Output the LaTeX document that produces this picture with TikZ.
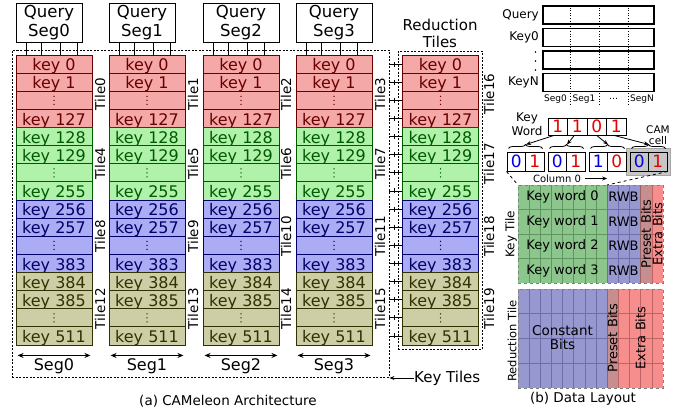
\documentclass[tikz,border=0pt]{standalone}
\usepackage{fontspec}
\setmainfont{DejaVu Sans}
\usetikzlibrary{arrows.meta,decorations.pathreplacing}
\definecolor{rf}{RGB}{245,168,168}
\definecolor{rd}{RGB}{105,0,0}
\definecolor{gf}{RGB}{176,242,170}
\definecolor{gd}{RGB}{0,90,0}
\definecolor{bf}{RGB}{172,172,244}
\definecolor{bd}{RGB}{0,0,105}
\definecolor{of}{RGB}{206,206,166}
\definecolor{od}{RGB}{50,50,0}
\definecolor{kgf}{RGB}{140,198,140}
\definecolor{kgd}{RGB}{95,150,95}
\definecolor{kpf}{RGB}{152,152,208}
\definecolor{kpd}{RGB}{110,110,170}
\definecolor{krf}{RGB}{198,142,142}
\definecolor{krd}{RGB}{150,100,100}
\definecolor{kef}{RGB}{246,142,142}
\definecolor{ked}{RGB}{190,100,100}
\definecolor{bitred}{RGB}{230,0,0}
\definecolor{bitblue}{RGB}{0,0,230}
\tikzset{
  keyrow/.style={draw, line width=0.9pt, minimum width=76pt, minimum height=18.125pt,
    inner sep=0pt, text height=13.5pt, text depth=0pt, font=\fontsize{16}{18}\selectfont},
  qbox/.style={draw, line width=1pt, minimum height=39pt, inner sep=0pt, align=center,
    font=\fontsize{16.5}{18.2}\selectfont, fill=white},
  tilelab/.style={rotate=90, inner sep=0pt, font=\fontsize{13.5}{15}\selectfont},
  tiledash/.style={draw, line width=0.9pt, dash pattern=on 2pt off 1.5pt, inner sep=0pt},
  wire/.style={line width=0.8pt},
  rowbox/.style={draw, line width=1.1pt, minimum width=111pt, minimum height=18pt, inner sep=0pt},
  bitcell/.style={draw, line width=1pt, minimum width=18.5pt, minimum height=19pt, inner sep=0pt,
    font=\fontsize{17}{19}\selectfont},
  kwcell/.style={draw, line width=1pt, minimum width=19.5pt, minimum height=17pt, inner sep=0pt,
    font=\fontsize{17}{19}\selectfont, text=bitred},
  smalllab/.style={inner sep=0pt, font=\fontsize{12}{14}\selectfont},
  arr/.style={-{Stealth[length=5pt,width=4pt]}, line width=0.8pt},
}
\begin{document}
\begin{tikzpicture}[x=1pt,y=-1pt]
\useasboundingbox (0,0) rectangle (679,410);

% ---------- Key tiles border ----------
\node[tiledash, minimum width=377pt, minimum height=327pt] (keytiles) at (200.5,213.5) {};
\node[tiledash, minimum width=84pt, minimum height=298pt] (redtiles) at (440,200) {};

% ---------- Query boxes ----------
\node[qbox, minimum width=66pt] (q0) at (49,22.5) {Query\\Seg0};
\node[qbox, minimum width=66pt] (q1) at (142,22.5) {Query\\Seg1};
\node[qbox, minimum width=76pt] (q2) at (241,22.5) {Query\\Seg2};
\node[qbox, minimum width=76pt] (q3) at (334,22.5) {Query\\Seg3};

% ---------- Key columns ----------
\foreach \c/\xl in {0/16,1/109,2/203,3/296,4/402.5} {
  \foreach \g/\fc/\dc in {0/rf/rd,1/gf/gd,2/bf/bd,3/of/od} {
    \foreach \i/\off in {0/0,1/1,2/-1,3/127} {
      \pgfmathtruncatemacro\r{4*\g+\i}
      \pgfmathtruncatemacro\kn{128*\g+\off}
      \pgfmathsetmacro\yc{55+(\r+0.5)*18.125}
      \ifnum\i=2
        \node[keyrow, fill=\fc, draw=\dc] (k\c-\r) at (\xl+38,\yc) {};
        \foreach \d in {-4,0,4} \fill[\dc] (k\c-\r.center) ++(0,\d) circle (0.75);
      \else
        \node[keyrow, fill=\fc, draw=\dc, text=\dc] (k\c-\r) at (\xl+38,\yc) {key \kn};
      \fi
    }
  }
}

% ---------- Query wires ----------
\foreach \c in {0,1,2,3} {
  \foreach \o in {11,26,45,62} {
    \draw[wire] ([xshift=\o pt]q\c.south west) -- ([xshift=\o pt]q\c.south west |- k\c-0.north);
  }
}

% ---------- Wires to reduction tiles ----------
\foreach \r in {0,...,15} {
  \draw[wire] (keytiles.east |- k4-\r.west) -- (k4-\r.west);
  \draw[wire] ([xshift=5pt,yshift=2.5pt]keytiles.east |- k4-\r.west) -- ([xshift=5pt,yshift=-2.5pt]keytiles.east |- k4-\r.west);
}

% ---------- Tile labels ----------
\foreach \c/\tx in {0/100,1/193,2/286,3/380} {
  \foreach \g/\ty in {0/94,1/163.75,2/236.25,3/308.75} {
    \pgfmathtruncatemacro\tn{4*\g+\c}
    \node[tilelab] (t\tn) at (\tx,\ty) {Tile\tn};
  }
}
\foreach \g/\ty in {0/94,1/163.75,2/236.25,3/308.75} {
  \pgfmathtruncatemacro\tn{16+\g}
  \node[tilelab] (t\tn) at (489,\ty) {Tile\tn};
}

% ---------- Seg arrows ----------
\foreach \c in {0,1,2,3} {
  \draw[{Stealth[length=6pt,width=5pt]}-{Stealth[length=6pt,width=5pt]}, line width=1pt]
    ([shift={(2,10)}]k\c-15.south west) -- ([shift={(-2,10)}]k\c-15.south east);
  \node[inner sep=0pt, font=\fontsize{16}{18}\selectfont] (s\c) at ([yshift=-21pt]k\c-15.south) {Seg\c};
}

\node[inner sep=0pt, align=center, font=\fontsize{15}{17}\selectfont] (redtitle) at (440,33) {Reduction\\Tiles};
\node[inner sep=0pt, anchor=west, font=\fontsize{15}{17}\selectfont] (ktl) at (414,378) {Key Tiles};
\draw[arr] (ktl.west) -- (keytiles.east |- ktl.west);

\node[inner sep=0pt, font=\fontsize{13.5}{15}\selectfont] (capa) at (228,401) {(a) CAMeleon Architecture};

% ================= (b) Data layout =================
\node[rowbox] (dq) at (598.5,15) {};
\node[rowbox] (dk0) at (598.5,37.5) {};
\node[rowbox] (dk1) at (598.5,60) {};
\node[rowbox] (dkn) at (598.5,82.5) {};
\node[smalllab, anchor=east] (lq) at (539,15) {Query};
\node[smalllab, anchor=east] (lk0) at (539,37.5) {Key0};
\node[smalllab, anchor=east] (lkn) at (539,82.5) {KeyN};
\foreach \d in {52,61,70} \fill (535.5,\d) circle (0.8);
\foreach \x in {570,599,628} \draw[line width=0.6pt, dotted] (\x,5) -- (\x,104);
\foreach \x/\t in {555.5/Seg0,584/Seg1,613.5/\dots,642/SegN}
  \node[inner sep=0pt, font=\fontsize{9}{10}\selectfont] at (\x,99) {\t};

% key word
\node[smalllab, align=center] (kwlab) at (527,124.5) {Key\\Word};
\foreach \i/\v in {0/1,1/1,2/0,3/1}
  \node[kwcell] (kw\i) at (557.75+\i*19.5,126.5) {\v};
\node[inner sep=0pt, align=center, font=\fontsize{10.5}{10.5}\selectfont] (camlab) at (658,135) {CAM\\cell};

% CAM cell highlight
\fill[gray!45, draw=gray!70, line width=0.6pt] (626.5,148) rectangle (670.5,175);

\foreach \p/\L/\a/\b in {0/507/0/1,1/548/0/1,2/589/1/0,3/630/0/1} {
  \node[bitcell, text=bitblue] (p\p a) at (\L+9.25,161.5) {\a};
  \node[bitcell, text=bitred] (p\p b) at (\L+27.75,161.5) {\b};
  \draw[decorate, decoration={brace, amplitude=4pt}, line width=0.8pt]
    ([shift={(2,-3)}]p\p a.north west) -- ([shift={(-2,-3)}]p\p b.north east);
  \coordinate (bt\p) at ([yshift=7pt]p\p a.north east);
}
\draw[arr] ([xshift=-4pt]kw0.south) -- (bt0);
\draw[arr] ([xshift=-3pt]kw1.south) -- (bt1);
\draw[arr] ([xshift=0pt]kw2.south) -- (bt2);
\draw[arr] ([xshift=-2pt]kw3.south) -- (bt3);

\node[inner sep=0pt, font=\fontsize{10}{11}\selectfont] (collab) at (557,178.5) {Column 0};
\draw[arr] ([xshift=4pt]collab.east) -- ++(22,0);

% Key tile
\fill[kgf] (518,185) rectangle (607,283);
\fill[kpf] (607,185) rectangle (640,283);
\fill[krf] (640,185) rectangle (652,283);
\fill[kef] (652,185) rectangle (663,283);
\foreach \k in {1,...,7} \draw[kgd, line width=0.5pt] (518+\k*11.125,185) -- (518+\k*11.125,283);
\foreach \k in {1,2} \draw[kpd, line width=0.5pt] (607+\k*11,185) -- (607+\k*11,283);
\draw[kpd, line width=0.6pt] (607,185) -- (607,283);
\draw[krd, line width=0.6pt] (640,185) -- (640,283);
\draw[ked, line width=0.6pt] (652,185) -- (652,283);
\foreach \k in {1,2,3} {
  \draw[kgd, line width=0.6pt] (518,185+\k*24.5) -- (607,185+\k*24.5);
  \draw[kpd, line width=0.6pt] (607,185+\k*24.5) -- (640,185+\k*24.5);
  \draw[krd, line width=0.4pt] (640,185+\k*24.5) -- (652,185+\k*24.5);
  \draw[ked, line width=0.4pt] (652,185+\k*24.5) -- (663,185+\k*24.5);
}
\node[draw=gray, dashed, line width=0.8pt, minimum width=145pt, minimum height=98pt, inner sep=0pt, anchor=north west] (ktile) at (518,185) {};
\foreach \k in {0,...,3} {
  \node[inner sep=0pt, font=\fontsize{13}{15}\selectfont] (kwr\k) at (562.5,197.25+\k*24.5) {Key word \k};
  \node[inner sep=0pt, font=\fontsize{13}{15}\selectfont] (rwb\k) at (623.5,197.25+\k*24.5) {RWB};
}
\node[tilelab, font=\fontsize{13}{15}\selectfont] (kpre) at (646,234) {Preset Bits};
\node[tilelab, font=\fontsize{13}{15}\selectfont] (kext) at (657.5,234) {Extra Bits};
\node[tilelab, font=\fontsize{12}{14}\selectfont] (ktlab) at (511,234) {Key Tile};

\draw[dashed, line width=0.8pt] (p0a.south west) -- (ktile.north west);
\draw[dashed, line width=0.8pt] (p3b.south east) -- (607,185);

% Reduction tile
\fill[kpf] (518,289) rectangle (607,388);
\fill[krf] (607,289) rectangle (618,388);
\fill[kef] (618,289) rectangle (663,388);
\foreach \k in {1,...,7} \draw[kpd, line width=0.5pt] (518+\k*11.125,289) -- (518+\k*11.125,388);
\foreach \k in {1,2,3} \draw[ked, line width=0.5pt] (618+\k*11.25,289) -- (618+\k*11.25,388);
\draw[krd, line width=0.6pt] (607,289) -- (607,388);
\draw[ked, line width=0.6pt] (618,289) -- (618,388);
\foreach \k in {1,2,3} {
  \draw[kpd, line width=0.6pt] (518,289+\k*24.75) -- (607,289+\k*24.75);
  \draw[krd, line width=0.4pt] (607,289+\k*24.75) -- (618,289+\k*24.75);
  \draw[ked, line width=0.6pt] (618,289+\k*24.75) -- (663,289+\k*24.75);
}
\node[draw=gray, dashed, line width=0.8pt, minimum width=145pt, minimum height=99pt, inner sep=0pt, anchor=north west] (rtile) at (518,289) {};
\node[inner sep=0pt, align=center, font=\fontsize{13.5}{14}\selectfont] (cbits) at (562.5,338) {Constant\\Bits};
\node[tilelab, font=\fontsize{13}{15}\selectfont] (rpre) at (612.5,338) {Preset Bits};
\node[tilelab, font=\fontsize{13}{15}\selectfont] (rext) at (640.5,338) {Extra Bits};
\node[tilelab, font=\fontsize{11.5}{13}\selectfont] (rtlab) at (512,341) {Reduction Tile};

\node[inner sep=0pt, font=\fontsize{13.5}{15}\selectfont] (capb) at (583,399) {(b) Data Layout};
\end{tikzpicture}
\end{document}
